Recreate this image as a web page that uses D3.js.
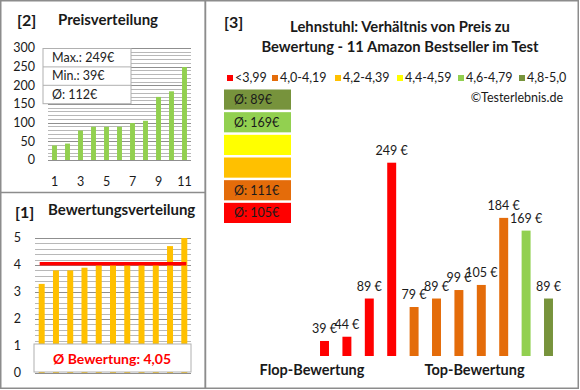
<!DOCTYPE html>
<html><head><meta charset="utf-8">
<script src="https://cdn.jsdelivr.net/npm/d3@7"></script>
<style>
html,body{margin:0;padding:0;background:#fff;}
svg{display:block;font-family:Lato,"Open Sans",sans-serif;}
</style></head>
<body><svg id="c" width="580" height="390"></svg>
<script>
// ---------- data ----------
const sortedPrices = [39, 44, 79, 89, 89, 89, 99, 105, 169, 184, 249];
const priceTicks = [0, 50, 100, 150, 200, 250, 300];
const priceXLabels = [1, 3, 5, 7, 9, 11];
const priceStats = ["Max.: 249€", "Min.: 39€", "Ø: 112€"];

const sortedRatings = [3.3, 3.8, 3.8, 3.9, 4.0, 4.0, 4.0, 4.0, 4.0, 4.7, 5.0];
const ratingTicks = [0, 1, 2, 3, 4, 5];
const ratingAvg = 4.05;
const ratingAvgLabel = "Ø Bewertung: 4,05";

const mainRatings = [3.3, 3.8, 3.8, 3.9, 4.0, 4.0, 4.0, 4.0, 4.0, 4.7, 5.0];
const mainPrices = [39, 44, 89, 249, 79, 89, 99, 105, 184, 169, 89];
const legendLabels = ["<3,99", "4,0-4,19", "4,2-4,39", "4,4-4,59", "4,6-4,79", "4,8-5,0"];
const legendColors = ["#FF0000", "#E46C0A", "#FFC000", "#FFFF00", "#92D050", "#77933C"];
const classThresholds = [3.995, 4.195, 4.395, 4.595, 4.795];
const avgBoxLabels = ["Ø: 105€", "Ø: 111€", "", "", "Ø: 169€", "Ø: 89€"];
const titleLines = ["Lehnstuhl: Verhältnis von Preis zu", "Bewertung - 11 Amazon Bestseller im Test"];
const groupLabels = ["Flop-Bewertung", "Top-Bewertung"];

// ---------- setup ----------
const svg = d3.select("#c");
const border = "#8c8c8c";
const txt = "#1a1a1a";

// panel borders
svg.append("rect").attr("x", 0.75).attr("y", 0.75).attr("width", 204.5).attr("height", 387.5)
  .attr("fill", "none").attr("stroke", border).attr("stroke-width", 1.5);
svg.append("line").attr("x1", 0).attr("x2", 205).attr("y1", 192.5).attr("y2", 192.5)
  .attr("stroke", border).attr("stroke-width", 1.5);
svg.append("rect").attr("x", 205.5).attr("y", 0.75).attr("width", 372.75).attr("height", 387.5)
  .attr("fill", "none").attr("stroke", border).attr("stroke-width", 1.5);

// ---------- panel [2] Preisverteilung ----------
{
  const g = svg.append("g");
  g.append("text").attr("x", 17).attr("y", 26).attr("font-size", 16).attr("font-weight", "bold")
    .attr("fill", txt).text("[2]");
  g.append("text").attr("x", 58).attr("y", 25).attr("font-size", 15).attr("font-weight", "bold")
    .attr("fill", txt).text("Preisverteilung");

  const x = d3.scaleBand().domain(d3.range(1, sortedPrices.length + 1)).range([48, 191]).paddingInner(0.62).paddingOuter(0.31);
  const y = d3.scaleLinear().domain([0, 300]).range([160, 48]);

  const grid = d3.range(10, 301, 10);
  g.selectAll("line.grid").data(grid).join("line")
    .attr("x1", 48).attr("x2", 191)
    .attr("y1", d => Math.round(y(d)) + 0.5).attr("y2", d => Math.round(y(d)) + 0.5)
    .attr("stroke", d => d % 50 === 0 ? "#8f8f8f" : "#b8b8b8").attr("stroke-width", 1);
  g.append("line").attr("x1", 48).attr("x2", 191).attr("y1", Math.round(y(0)) + 0.5).attr("y2", Math.round(y(0)) + 0.5)
    .attr("stroke", "#8f8f8f");

  g.selectAll("text.yl").data(priceTicks).join("text")
    .attr("x", 35).attr("y", d => y(d)).attr("dy", "0.35em").attr("text-anchor", "end")
    .attr("font-size", 12.5).attr("fill", txt).text(d => d);

  g.selectAll("rect.bar").data(sortedPrices).join("rect")
    .attr("x", (d, i) => x(i + 1)).attr("width", x.bandwidth())
    .attr("y", d => y(d)).attr("height", d => y(0) - y(d)).attr("fill", "#92D050");

  g.selectAll("text.xl").data(priceXLabels).join("text")
    .attr("x", d => x(d) + x.bandwidth() / 2).attr("y", 182).attr("dy", "0.35em").attr("text-anchor", "middle")
    .attr("font-size", 12.5).attr("fill", txt).text(d => d);

  const bx = 43, bw = 88, rowH = 18.4, by = 48.5;
  g.append("rect").attr("x", bx).attr("y", by).attr("width", bw).attr("height", rowH * 3)
    .attr("fill", "#fff").attr("stroke", "#b0b0b0");
  g.selectAll("line.sep").data([1, 2]).join("line")
    .attr("x1", bx).attr("x2", bx + bw).attr("y1", d => by + rowH * d).attr("y2", d => by + rowH * d)
    .attr("stroke", "#b0b0b0");
  g.selectAll("text.st").data(priceStats).join("text")
    .attr("x", 52).attr("y", (d, i) => by + rowH * i + rowH / 2).attr("dy", "0.35em")
    .attr("font-size", 12.5).attr("fill", "#222").text(d => d);
}

// ---------- panel [1] Bewertungsverteilung ----------
{
  const g = svg.append("g");
  g.append("text").attr("x", 15).attr("y", 218).attr("font-size", 16).attr("font-weight", "bold")
    .attr("fill", txt).text("[1]");
  g.append("text").attr("x", 48).attr("y", 215).attr("font-size", 15).attr("font-weight", "bold")
    .attr("fill", txt).text("Bewertungsverteilung");

  const x = d3.scaleBand().domain(d3.range(1, sortedRatings.length + 1)).range([35, 191]).paddingInner(0.58).paddingOuter(0.26);
  const y = d3.scaleLinear().domain([0, 5]).range([373, 238]);

  const grid = d3.range(0.2, 5.01, 0.2).map(v => +v.toFixed(1));
  g.selectAll("line.grid").data(grid).join("line")
    .attr("x1", 35).attr("x2", 191)
    .attr("y1", d => Math.round(y(d)) + 0.5).attr("y2", d => Math.round(y(d)) + 0.5)
    .attr("stroke", d => Number.isInteger(d) ? "#8f8f8f" : "#b8b8b8");
  g.append("line").attr("x1", 35).attr("x2", 191).attr("y1", Math.round(y(0)) + 0.5).attr("y2", Math.round(y(0)) + 0.5)
    .attr("stroke", "#8f8f8f");

  g.selectAll("text.yl").data(ratingTicks).join("text")
    .attr("x", 21).attr("y", d => y(d)).attr("dy", "0.35em").attr("text-anchor", "end")
    .attr("font-size", 12.5).attr("fill", txt).text(d => d);

  g.selectAll("rect.bar").data(sortedRatings).join("rect")
    .attr("x", (d, i) => x(i + 1)).attr("width", x.bandwidth())
    .attr("y", d => y(d)).attr("height", d => y(0) - y(d)).attr("fill", "#FFC000");

  g.append("line").attr("x1", x(1) + x.bandwidth() / 2 - 2).attr("x2", x(11) + x.bandwidth() / 2 + 2)
    .attr("y1", y(ratingAvg)).attr("y2", y(ratingAvg)).attr("stroke", "#FF0000").attr("stroke-width", 3.5);

  g.append("rect").attr("x", 34).attr("y", 344).attr("width", 157).attr("height", 28)
    .attr("fill", "#fff").attr("stroke", "#b0b0b0");
  g.append("text").attr("x", 112).attr("y", 359).attr("dy", "0.35em").attr("text-anchor", "middle")
    .attr("font-size", 14).attr("font-weight", "bold").attr("fill", "#FF0000").text(ratingAvgLabel);
}

// ---------- panel [3] main ----------
{
  const g = svg.append("g");
  g.append("text").attr("x", 224).attr("y", 28).attr("font-size", 16).attr("font-weight", "bold")
    .attr("fill", txt).text("[3]");
  g.selectAll("text.title").data(titleLines).join("text")
    .attr("x", 400).attr("y", (d, i) => 27 + i * 19.5).attr("dy", "0.35em").attr("text-anchor", "middle")
    .attr("font-size", 14.8).attr("font-weight", "bold").attr("fill", txt).text(d => d);

  const legX = [227, 272, 335, 397, 458, 519];
  const lg = g.selectAll("g.leg").data(legendLabels).join("g")
    .attr("transform", (d, i) => `translate(${legX[i]},78)`);
  lg.append("rect").attr("x", 0).attr("y", -3).attr("width", 6).attr("height", 6).attr("fill", (d, i) => legendColors[i]);
  lg.append("text").attr("x", 8).attr("y", 0).attr("dy", "0.35em").attr("font-size", 12.5).attr("fill", txt).text(d => d);

  g.append("text").attr("x", 563).attr("y", 98).attr("dy", "0.35em").attr("text-anchor", "end")
    .attr("font-size", 12.5).attr("fill", txt).text("©Testerlebnis.de");

  const classIdx = d3.range(legendColors.length);
  const boxY = d3.scaleBand().domain(classIdx.slice().reverse()).range([89.5, 223]).paddingInner(0.11);
  const bg = g.selectAll("g.avg").data(classIdx).join("g")
    .attr("transform", d => `translate(224,${boxY(d)})`);
  bg.append("rect").attr("width", 67).attr("height", boxY.bandwidth()).attr("fill", d => legendColors[d]);
  bg.append("text").attr("x", 10).attr("y", boxY.bandwidth() / 2).attr("dy", "0.35em")
    .attr("font-size", 12.5).attr("fill", "#1a1a1a").text(d => avgBoxLabels[d]);

  const colorOf = d3.scaleThreshold().domain(classThresholds).range(legendColors);
  const x = d3.scaleBand().domain(d3.range(mainPrices.length)).range([313.3, 559.7]).paddingInner(0.6).paddingOuter(0.3);
  const y = d3.scaleLinear().domain([21.3, 249]).range([356, 162.7]);

  g.selectAll("rect.mbar").data(mainPrices).join("rect")
    .attr("x", (d, i) => x(i)).attr("width", x.bandwidth())
    .attr("y", d => y(d)).attr("height", d => y(21.3) - y(d))
    .attr("fill", (d, i) => colorOf(mainRatings[i]));

  g.selectAll("text.vl").data(mainPrices).join("text")
    .attr("x", (d, i) => x(i) + x.bandwidth() / 2).attr("y", d => y(d) - 12).attr("dy", "0.35em")
    .attr("text-anchor", "middle").attr("font-size", 12.5).attr("fill", txt).text(d => d + " €");

  g.selectAll("text.grp").data(groupLabels).join("text")
    .attr("x", (d, i) => [312, 474.5][i]).attr("y", 370).attr("dy", "0.35em").attr("text-anchor", "middle")
    .attr("font-size", 14.5).attr("font-weight", "bold").attr("fill", txt).text(d => d);
}
</script></body></html>
